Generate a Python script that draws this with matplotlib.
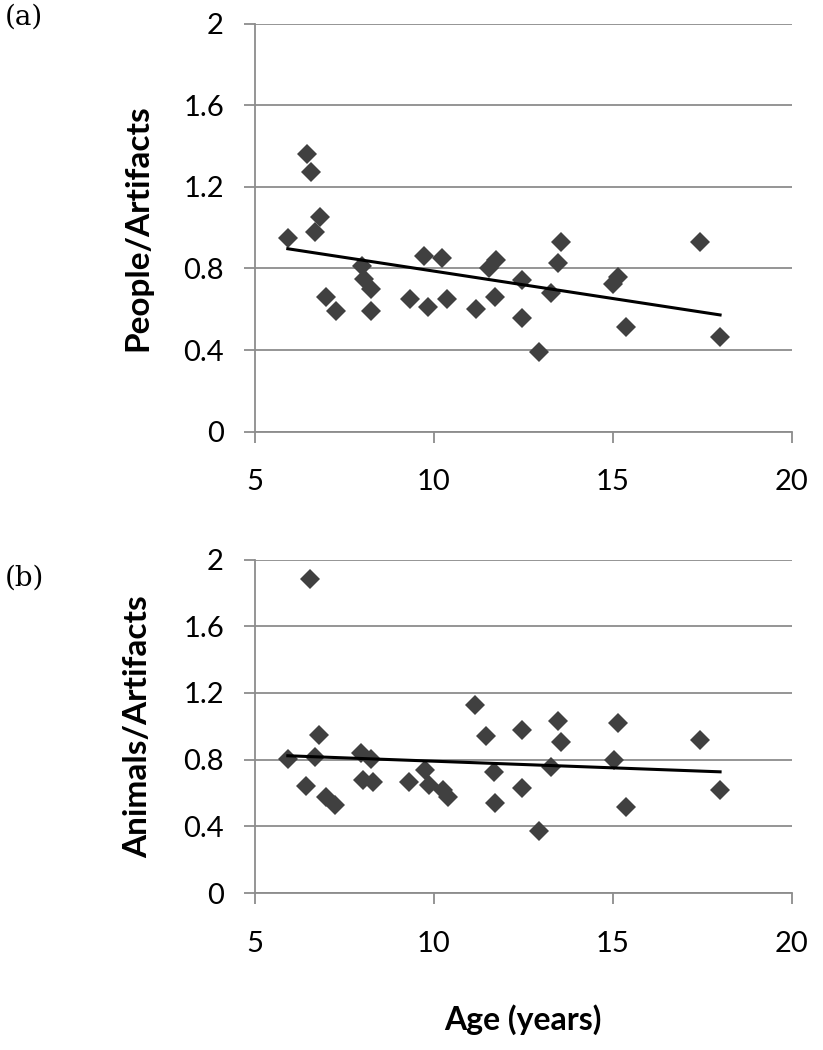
import numpy as np
import matplotlib
matplotlib.use("Agg")
import matplotlib.pyplot as plt

W, H = 823, 1050
FONT = "Lato"
MARKER = "#404040"
GRIDC = "#8c8c8c"

# (a) People/Artifacts vs age
age_a = [5.93, 6.46, 6.58, 6.70, 6.82, 7.00, 7.28, 8.00, 8.05, 8.26, 8.26,
         9.33, 9.73, 9.84, 10.24, 10.37, 11.19, 11.54, 11.75, 11.72, 12.47,
         12.47, 12.94, 13.29, 13.47, 13.57, 15.01, 15.15, 15.38, 17.43, 18.00]
ratio_a = [0.95, 1.36, 1.27, 0.98, 1.05, 0.66, 0.59, 0.81, 0.75, 0.70, 0.59,
           0.65, 0.86, 0.61, 0.85, 0.65, 0.60, 0.80, 0.84, 0.66, 0.745,
           0.556, 0.39, 0.68, 0.825, 0.927, 0.726, 0.76, 0.515, 0.927, 0.466]

# (b) Animals/Artifacts vs age
age_b = [5.93, 6.44, 6.56, 6.68, 6.80, 7.00, 7.26, 7.98, 8.03, 8.26, 8.30,
         9.31, 9.75, 9.87, 10.26, 10.40, 11.17, 11.47, 11.70, 11.72, 12.48,
         12.48, 12.94, 13.27, 13.47, 13.57, 15.04, 15.15, 15.38, 17.43, 18.00]
ratio_b = [0.804, 0.644, 1.883, 0.814, 0.95, 0.578, 0.528, 0.838, 0.678, 0.802, 0.668,
           0.668, 0.738, 0.648, 0.618, 0.574, 1.13, 0.94, 0.728, 0.542, 0.98,
           0.63, 0.37, 0.754, 1.033, 0.904, 0.798, 1.018, 0.518, 0.918, 0.618]

x_ticks = [5, 10, 15, 20]
y_ticks = [0, 0.4, 0.8, 1.2, 1.6, 2.0]
y_ticklabels = ["0", "0.4", "0.8", "1.2", "1.6", "2"]


def panel(fig, rect, ages, vals, ylabel, tag, tag_y, xlabel=None):
    ax = fig.add_axes(rect)
    ax.set_xlim(5, 20)
    ax.set_ylim(0, 2)
    ax.set_xticks(x_ticks)
    ax.set_yticks(y_ticks)
    ax.set_yticklabels(y_ticklabels)
    ax.grid(axis="y", color=GRIDC, linewidth=1.3, zorder=0)
    ax.set_axisbelow(True)
    for s in ("top", "right"):
        ax.spines[s].set_visible(False)
    for s in ("left", "bottom"):
        ax.spines[s].set_color(GRIDC)
        ax.spines[s].set_linewidth(1.3)
    ax.tick_params(axis="x", direction="out", length=8, width=1.3, color=GRIDC,
                   labelsize=21, pad=19)
    ax.tick_params(axis="y", direction="out", length=8, width=1.3, color=GRIDC,
                   labelsize=21, pad=14)
    for lab in ax.get_xticklabels() + ax.get_yticklabels():
        lab.set_fontfamily(FONT)

    ax.plot(ages, vals, "D", color=MARKER, ms=10.5, mew=0, zorder=3, clip_on=False)

    # linear trend over the age range of the data
    k, b = np.polyfit(ages, vals, 1)
    xs = np.array([min(ages), max(ages)])
    ax.plot(xs, k * xs + b, color="black", linewidth=2.2, zorder=4)

    ax.set_ylabel(ylabel, fontsize=24, fontweight="bold", family=FONT)
    ax.yaxis.set_label_coords(-0.19, 0.5)
    if xlabel:
        ax.set_xlabel(xlabel, fontsize=23, fontweight="bold", family=FONT)
        ax.xaxis.set_label_coords(0.5, -0.335)
    fig.text(5 / W, tag_y, tag, fontsize=20, family="DejaVu Serif",
             ha="left", va="center")
    return ax


fig = plt.figure(figsize=(W / 100, H / 100), dpi=100, facecolor="white")
left = 254.5 / W
width = (791.7 - 254.5) / W
panel(fig, [left, 1 - 431.7 / H, width, (431.7 - 23.5) / H],
      age_a, ratio_a, "People/Artifacts", "(a)", 1 - 17 / H)
panel(fig, [left, 1 - 893 / H, width, (893 - 559.5) / H],
      age_b, ratio_b, "Animals/Artifacts", "(b)", 1 - 578 / H, xlabel="Age (years)")

fig.savefig("out.png", dpi=100, facecolor="white")
